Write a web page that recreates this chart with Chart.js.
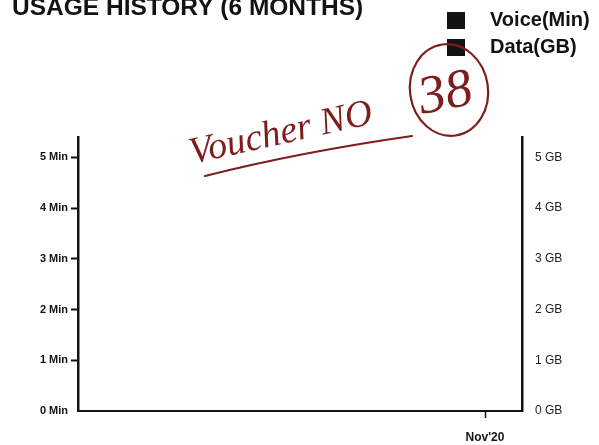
<!DOCTYPE html>
<html>
<head>
<meta charset="utf-8">
<title>Usage history</title>
<script src="https://cdn.jsdelivr.net/npm/chart.js@4.4.1/dist/chart.umd.min.js"></script>
<style>
    html, body { margin: 0; padding: 0; background: #fff; }
    .chart-box { width: 599px; height: 445px; }
</style>
</head>
<body>
<div class="chart-box"><canvas id="usageChart"></canvas></div>
<script>
// values (all bars sit at zero)
var months = ['', '', '', '', '', "Nov'20"];
var voiceMin = [0, 0, 0, 0, 0, 0];
var dataGb = [0, 0, 0, 0, 0, 0];
var voiceTicks = [0, 1, 2, 3, 4, 5];
var dataTicks = [0, 1, 2, 3, 4, 5];

var ink = '#7d1d1d';
var black = '#131313';

// legend swatch: square on the left, empty space after it
var swatch = document.createElement('canvas');
swatch.width = 33;
swatch.height = 17;
var sctx = swatch.getContext('2d');
sctx.fillStyle = black;
sctx.fillRect(0, 0, 18, 17);

// move the legend up into the top right corner
var legendCorner = {
    id: 'legendCorner',
    afterLayout: function(chart) {
        var lg = chart.legend;
        lg.left = 440;
        lg.top = 3;
        lg.right = 599;
        lg.bottom = 110;
        lg.width = lg.right - lg.left;
        lg.height = lg.bottom - lg.top;
    }
};

// the handwritten note on the scan
var handNote = {
    id: 'handNote',
    afterDraw: function(chart) {
        var ctx = chart.ctx;
        ctx.save();
        ctx.strokeStyle = ink;
        ctx.fillStyle = ink;
        ctx.lineWidth = 2.2;
        ctx.lineCap = 'round';

        ctx.beginPath();
        ctx.ellipse(449, 90, 39, 46, -0.15, 0, Math.PI * 2);
        ctx.stroke();

        ctx.beginPath();
        ctx.moveTo(205, 176);
        ctx.quadraticCurveTo(300, 152, 412, 136);
        ctx.stroke();

        ctx.save();
        ctx.translate(192, 164);
        ctx.rotate(-0.22);
        ctx.font = 'italic 38px "Liberation Serif"';
        ctx.fillText('Voucher NO', 0, 0);
        ctx.restore();

        ctx.translate(422, 114);
        ctx.rotate(-0.2);
        ctx.font = 'italic 54px "Liberation Serif"';
        ctx.fillText('38', 0, 0);
        ctx.restore();
    }
};

var ctxUsage = document.getElementById('usageChart').getContext('2d');
var usageChart = new Chart(ctxUsage, {
    type: 'bar',
    data: {
        labels: months,
        datasets: [{
            label: 'Voice(Min)',
            data: voiceMin,
            backgroundColor: black,
            borderWidth: 0,
            yAxisID: 'y'
        }, {
            label: 'Data(GB)',
            data: dataGb,
            backgroundColor: black,
            borderWidth: 0,
            yAxisID: 'y1'
        }]
    },
    options: {
        responsive: true,
        maintainAspectRatio: false,
        animation: false,
        layout: { padding: { left: 12, right: 0, top: 0, bottom: 0 } },
        plugins: {
            title: {
                display: true,
                text: 'USAGE HISTORY (6 MONTHS)',
                align: 'start',
                color: black,
                font: { family: 'Liberation Sans', size: 24.5, weight: 'bold', lineHeight: 1 },
                padding: { top: -4, bottom: 116.5 }
            },
            legend: {
                position: 'chartArea',
                align: 'start',
                labels: {
                    usePointStyle: true,
                    pointStyle: swatch,
                    pointStyleWidth: 33,
                    padding: 7,
                    color: black,
                    font: { family: 'Liberation Sans', size: 20, weight: 'bold' }
                }
            },
            tooltip: { enabled: false }
        },
        scales: {
            x: {
                afterFit: function(s) { s.height = 34; },
                grid: {
                    offset: false,
                    drawOnChartArea: false,
                    tickLength: 7,
                    tickWidth: 1.5,
                    tickColor: function(c) { return c.tick && c.tick.label ? black : 'transparent'; }
                },
                border: { display: true, color: black, width: 2 },
                ticks: {
                    autoSkip: false,
                    maxRotation: 0,
                    padding: 12,
                    color: black,
                    font: { family: 'Liberation Sans', size: 12, weight: 'bold' }
                }
            },
            y: {
                position: 'left',
                min: 0,
                max: 5.4,
                afterBuildTicks: function(s) { s.ticks = voiceTicks.map(function(v) { return { value: v }; }); },
                afterFit: function(s) { s.width = 66; },
                grid: {
                    drawOnChartArea: false,
                    tickLength: 7,
                    tickWidth: 2,
                    tickColor: function(c) { return c.tick && c.tick.value === 0 ? 'transparent' : black; }
                },
                border: { display: true, color: black, width: 2.5 },
                ticks: {
                    padding: 3,
                    color: black,
                    font: { family: 'Liberation Sans', size: 11, weight: 'bold' },
                    callback: function(v) { return v + ' Min'; }
                }
            },
            y1: {
                position: 'right',
                min: 0,
                max: 5.4,
                afterBuildTicks: function(s) { s.ticks = dataTicks.map(function(v) { return { value: v }; }); },
                afterFit: function(s) { s.width = 77; },
                grid: { display: false, drawTicks: false },
                border: { display: true, color: black, width: 2.5 },
                ticks: {
                    padding: 13,
                    color: '#222',
                    font: { family: 'Liberation Sans', size: 12 },
                    callback: function(v) { return v + ' GB'; }
                }
            }
        }
    },
    plugins: [legendCorner, handNote]
});
</script>
</body>
</html>
